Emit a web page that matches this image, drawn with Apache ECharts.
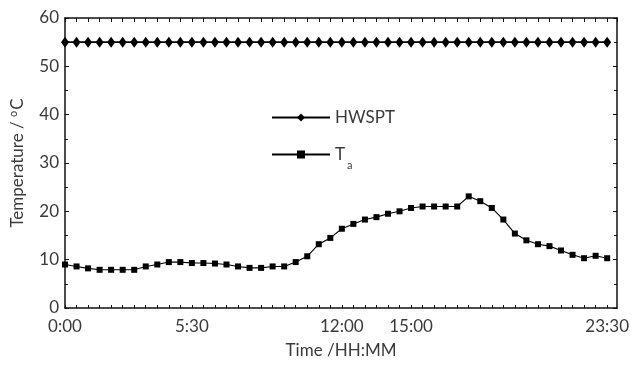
<!DOCTYPE html>
<html>
<head>
<meta charset="utf-8">
<script src="https://cdn.jsdelivr.net/npm/echarts@6/dist/echarts.min.js"></script>
<style>
  html, body { margin: 0; padding: 0; background: #fff; }
  #chart { width: 632px; height: 365px; }
</style>
</head>
<body>
<div id="chart"></div>
<script>
// Half-hourly time steps of the day (index 0 = 0:00, 47 = 23:30)
const timeLabels = [
  '0:00','0:30','1:00','1:30','2:00','2:30','3:00','3:30','4:00','4:30','5:00','5:30',
  '6:00','6:30','7:00','7:30','8:00','8:30','9:00','9:30','10:00','10:30','11:00','11:30',
  '12:00','12:30','13:00','13:30','14:00','14:30','15:00','15:30','16:00','16:30','17:00','17:30',
  '18:00','18:30','19:00','19:30','20:00','20:30','21:00','21:30','22:00','22:30','23:00','23:30'
];

// Hot water supply set-point temperature (°C)
const hwspt = [
  55,55,55,55,55,55,55,55,55,55,55,55,
  55,55,55,55,55,55,55,55,55,55,55,55,
  55,55,55,55,55,55,55,55,55,55,55,55,
  55,55,55,55,55,55,55,55,55,55,55,55
];

// Ambient temperature Ta (°C)
const ambient = [
  9.0, 8.6, 8.2, 7.9, 7.9, 7.9, 7.9, 8.6, 9.0, 9.5, 9.5, 9.3,
  9.3, 9.2, 9.0, 8.6, 8.3, 8.3, 8.6, 8.6, 9.5, 10.7, 13.2, 14.5,
  16.4, 17.4, 18.3, 18.8, 19.5, 20.0, 20.7, 21.0, 21.0, 21.0, 21.0, 23.1,
  22.1, 20.7, 18.3, 15.4, 14.0, 13.2, 12.8, 11.9, 11.0, 10.3, 10.8, 10.3
];

// Time labels printed under the axis
const shownTicks = ['0:00', '5:30', '12:00', '15:00', '23:30'];

const FONT = 'Lato';
const TEXT = '#3a3a3a';

const toPairs = arr => arr.map((v, i) => [i, v]);

const chart = echarts.init(document.getElementById('chart'), null, { renderer: 'canvas' });

const frameLine = { show: true, onZero: false, lineStyle: { color: '#111', width: 1.5 } };

chart.setOption({
  animation: false,
  backgroundColor: '#fff',
  textStyle: { fontFamily: FONT, color: TEXT },
  grid: { left: 65, right: 12, top: 18, bottom: 57, containLabel: false },
  legend: {
    orient: 'vertical',
    left: 266,
    top: 104,
    itemWidth: 58,
    itemHeight: 10,
    itemGap: 20,
    textStyle: {
      fontFamily: FONT, fontSize: 17, color: TEXT,
      rich: {
        t: { fontFamily: FONT, fontSize: 17, color: TEXT },
        s: { fontFamily: FONT, fontSize: 11, color: TEXT, verticalAlign: 'bottom', padding: [22, 0, 0, 2] }
      }
    },
    formatter: name => name === 'Ta' ? '{t|T}{s|a}' : name,
    data: ['HWSPT', 'Ta']
  },
  xAxis: [
    {
      type: 'value',
      min: 0,
      max: 47.86,
      interval: 1,
      position: 'bottom',
      name: 'Time /HH:MM',
      nameLocation: 'middle',
      nameGap: 34,
      nameTextStyle: { fontFamily: FONT, fontSize: 17, color: TEXT },
      axisLine: frameLine,
      axisTick: { show: true, inside: true, length: 3, lineStyle: { color: '#111' } },
      axisLabel: {
        show: true, margin: 10, fontFamily: FONT, fontSize: 17, color: TEXT,
        showMaxLabel: false,
        formatter: v => {
          const lbl = timeLabels[v];
          return lbl && shownTicks.includes(lbl) ? lbl : '';
        }
      },
      splitLine: { show: false }
    },
    {
      type: 'value',
      min: 0,
      max: 47.86,
      interval: 1,
      position: 'top',
      axisLine: frameLine,
      axisTick: {
        show: true, inside: true, length: 4, lineStyle: { color: '#111' },
        interval: (idx, v) => shownTicks.includes(timeLabels[v])
      },
      axisLabel: { show: false },
      splitLine: { show: false }
    }
  ],
  yAxis: [
    {
      type: 'value',
      min: 0,
      max: 60,
      interval: 10,
      position: 'left',
      name: 'Temperature / {sup|o}C',
      nameLocation: 'middle',
      nameGap: 38,
      nameRotate: 90,
      nameTextStyle: {
        fontFamily: FONT, fontSize: 17, color: TEXT,
        rich: { sup: { fontFamily: FONT, fontSize: 11, color: TEXT, verticalAlign: 'top', padding: [0, 1, 8, 0] } }
      },
      axisLine: frameLine,
      axisTick: { show: true, inside: true, length: 4, lineStyle: { color: '#111' } },
      minorTick: { show: true, splitNumber: 2, length: 3, lineStyle: { color: '#111' } },
      axisLabel: { margin: 6, fontFamily: FONT, fontSize: 17, color: TEXT },
      splitLine: { show: false }
    },
    {
      type: 'value',
      min: 0,
      max: 60,
      interval: 10,
      position: 'right',
      axisLine: frameLine,
      axisTick: { show: true, inside: true, length: 4, lineStyle: { color: '#111' } },
      minorTick: { show: true, splitNumber: 2, length: 3, lineStyle: { color: '#111' } },
      axisLabel: { show: false },
      splitLine: { show: false }
    }
  ],
  series: [
    {
      name: 'HWSPT',
      type: 'line',
      xAxisIndex: 0,
      yAxisIndex: 0,
      data: toPairs(hwspt),
      symbol: 'diamond',
      symbolSize: [8, 11],
      showAllSymbol: true,
      lineStyle: { color: '#000', width: 1.6 },
      itemStyle: { color: '#000' }
    },
    {
      name: 'Ta',
      type: 'line',
      xAxisIndex: 0,
      yAxisIndex: 0,
      data: toPairs(ambient),
      symbol: 'rect',
      symbolSize: 6,
      showAllSymbol: true,
      lineStyle: { color: '#000', width: 1.1 },
      itemStyle: { color: '#000' }
    }
  ]
});
</script>
</body>
</html>
